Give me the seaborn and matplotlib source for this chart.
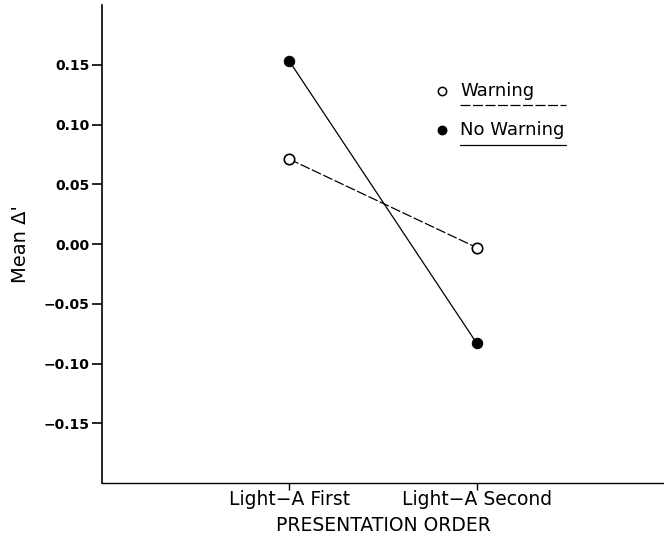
import matplotlib
matplotlib.use("Agg")
import matplotlib.pyplot as plt
import seaborn as sns
import pandas as pd
from matplotlib.lines import Line2D

# values
orders = ["Light\u2212A First", "Light\u2212A Second"]
warning = [0.071, -0.003]
no_warning = [0.153, -0.083]
groups = ["Warning", "No Warning"]
y_ticks = [0.15, 0.10, 0.05, 0.00, -0.05, -0.10, -0.15]

df = pd.DataFrame({
    "order": orders * 2,
    "delta": warning + no_warning,
    "group": [groups[0]] * 2 + [groups[1]] * 2,
})

sns.set_theme(style="ticks")
plt.rcParams['font.family'] = ['DejaVu Sans']
plt.rcParams['text.color'] = 'black'
plt.rcParams['axes.labelcolor'] = 'black'
plt.rcParams['xtick.color'] = 'black'
plt.rcParams['ytick.color'] = 'black'

fig = plt.figure(figsize=(6.64, 5.47), dpi=100)
ax = fig.add_axes([102 / 664, 1 - 483 / 547, 1 - 102 / 664, (483 - 5) / 547])

sns.lineplot(data=df, x="order", y="delta", hue="group", style="group",
             hue_order=groups, style_order=groups,
             palette={"Warning": "black", "No Warning": "black"},
             dashes={"Warning": (8, 2), "No Warning": ""},
             markers={"Warning": "o", "No Warning": "o"},
             markersize=7.5, linewidth=0.9, legend=False, ax=ax)

# open marker for Warning
lines = ax.get_lines()
lines[0].set_markerfacecolor("white")
lines[0].set_markeredgecolor("black")
lines[0].set_markeredgewidth(1.2)
lines[1].set_markerfacecolor("black")
lines[1].set_markeredgecolor("black")

ax.set_xlim(-1.0, 2.0)
ax.set_ylim(-0.2, 0.2)
ax.set_yticks(y_ticks)
ax.set_yticklabels([f"{v:.2f}".replace("-", "\u2212") for v in y_ticks],
                   fontsize=10, fontweight="bold")
ax.set_xticks([0, 1])
ax.set_xticklabels(orders, fontsize=13.5)
ax.tick_params(axis="y", direction="out", length=7, width=1.2, pad=2)
ax.tick_params(axis="x", direction="out", length=5, width=1.0, pad=0)
ax.set_xlabel("PRESENTATION ORDER", fontsize=13.5, labelpad=5)
ax.set_ylabel("Mean \u0394'", fontsize=14, labelpad=10)

sns.despine(ax=ax)
for side in ["left", "bottom"]:
    ax.spines[side].set_color("black")
ax.spines["left"].set_linewidth(1.2)
ax.spines["bottom"].set_linewidth(1.0)

# legend: markers, labels and underlines (figure pixel layout)
W, H = 664, 547
key_y = [91, 130]
line_y = [105, 145]
faces = ["white", "black"]
styles = [(0, (8, 2)), "-"]
for lab, ky, ly, fc, ls in zip(groups, key_y, line_y, faces, styles):
    fig.add_artist(Line2D([442 / W], [1 - ky / H], transform=fig.transFigure,
                          marker="o", markersize=6, markerfacecolor=fc,
                          markeredgecolor="black", markeredgewidth=1.1,
                          linestyle="none"))
    fig.text(460 / W, 1 - ky / H, lab, fontsize=13, va="center", ha="left")
    fig.add_artist(Line2D([460 / W, 566 / W], [1 - ly / H, 1 - ly / H],
                          transform=fig.transFigure, color="black",
                          linewidth=0.9, linestyle=ls))

fig.savefig("out.png", dpi=100)
